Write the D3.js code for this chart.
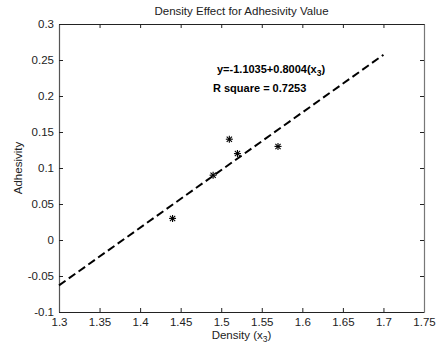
<!DOCTYPE html>
<html>
<head>
<meta charset="utf-8">
<script src="https://cdn.jsdelivr.net/npm/d3@7"></script>
<style>
  html, body { margin: 0; padding: 0; background: #fff; }
  svg { display: block; font-family: "Liberation Sans", Arial, sans-serif; }
</style>
</head>
<body>
<svg id="chart" width="438" height="349"></svg>
<script>
// Measured samples: density (x3) vs adhesivity
const density = [1.44, 1.49, 1.51, 1.52, 1.57];
const adhesivity = [0.03, 0.09, 0.14, 0.12, 0.13];

// Regression fit y = b0 + b1 * x3, drawn over this density range
const fitIntercept = -1.1035;
const fitSlope = 0.8004;
const fitRange = [1.3, 1.7];
const rSquare = 0.7253;

const xTicks = [1.3, 1.35, 1.4, 1.45, 1.5, 1.55, 1.6, 1.65, 1.7, 1.75];
const yTicks = [-0.1, -0.05, 0, 0.05, 0.1, 0.15, 0.2, 0.25, 0.3];

const svg = d3.select("#chart");
const m = { left: 59, right: 424, top: 24, bottom: 312 };

const x = d3.scaleLinear().domain([1.3, 1.75]).range([m.left, m.right]);
const y = d3.scaleLinear().domain([-0.1, 0.3]).range([m.bottom, m.top]);

const fmt = d => String(+d.toFixed(2));
const tickLen = 4;

// Bottom axis
const gx = svg.append("g").attr("transform", `translate(0,${m.bottom})`)
  .call(d3.axisBottom(x).tickValues(xTicks).tickFormat(fmt).tickSizeInner(-tickLen).tickSizeOuter(0).tickPadding(6));
// Top axis (ticks only)
const gxt = svg.append("g").attr("transform", `translate(0,${m.top})`)
  .call(d3.axisTop(x).tickValues(xTicks).tickFormat("").tickSizeInner(-tickLen).tickSizeOuter(0));
// Left axis
const gy = svg.append("g").attr("transform", `translate(${m.left},0)`)
  .call(d3.axisLeft(y).tickValues(yTicks).tickFormat(fmt).tickSizeInner(-tickLen).tickSizeOuter(0).tickPadding(5));
// Right axis (ticks only)
const gyr = svg.append("g").attr("transform", `translate(${m.right},0)`)
  .call(d3.axisRight(y).tickValues(yTicks).tickFormat("").tickSizeInner(-tickLen).tickSizeOuter(0));

[gx, gxt, gy, gyr].forEach(g => {
  g.selectAll("path.domain").attr("stroke", "#222").attr("stroke-width", 1.2);
  g.selectAll(".tick line").attr("stroke", "#222");
  g.selectAll("text").attr("font-size", 11.5).attr("fill", "#222")
    .attr("font-family", "Liberation Sans, Arial, sans-serif");
});
gyr.select("path.domain").attr("stroke", "#777");
gy.select("path.domain").attr("stroke", "#555");
gy.selectAll("text").attr("dy", "0.32em");

// Title
svg.append("text").attr("x", (m.left + m.right) / 2).attr("y", 15)
  .attr("text-anchor", "middle").attr("font-size", 11.5).attr("fill", "#222")
  .text("Density Effect for Adhesivity Value");

// Axis labels
const xl = svg.append("text").attr("x", (m.left + m.right) / 2).attr("y", 339)
  .attr("text-anchor", "middle").attr("font-size", 11.5).attr("fill", "#222");
xl.append("tspan").text("Density (x");
xl.append("tspan").attr("font-size", 8.5).attr("dy", 3).text("3");
xl.append("tspan").attr("dy", -3).text(")");

svg.append("text")
  .attr("transform", `translate(22,${(m.top + m.bottom) / 2}) rotate(-90)`)
  .attr("text-anchor", "middle").attr("font-size", 11.5).attr("fill", "#222")
  .text("Adhesivity");

// Regression line
const fitLine = d3.line().x(d => x(d)).y(d => y(fitIntercept + fitSlope * d));
svg.append("path").datum(fitRange).attr("d", fitLine)
  .attr("fill", "none").attr("stroke", "#000").attr("stroke-width", 2)
  .attr("stroke-dasharray", "8,4");

// Asterisk markers
const r = 3.5;
const star = svg.append("g").selectAll("g").data(density.map((d, i) => [d, adhesivity[i]]))
  .join("g").attr("transform", d => `translate(${x(d[0])},${y(d[1])})`)
  .attr("stroke", "#000").attr("stroke-width", 1.1);
star.append("line").attr("x1", -r).attr("x2", r).attr("y1", 0).attr("y2", 0);
star.append("line").attr("x1", 0).attr("x2", 0).attr("y1", -r).attr("y2", r);
star.append("line").attr("x1", -r * 0.75).attr("x2", r * 0.75).attr("y1", -r * 0.75).attr("y2", r * 0.75);
star.append("line").attr("x1", -r * 0.75).attr("x2", r * 0.75).attr("y1", r * 0.75).attr("y2", -r * 0.75);

// Fit annotation
const eq = svg.append("text").attr("x", 217).attr("y", 73)
  .attr("font-size", 11).attr("font-weight", "bold").attr("fill", "#000");
eq.append("tspan").text(`y=${fitIntercept}+${fitSlope}(x`);
eq.append("tspan").attr("font-size", 8.5).attr("dy", 3).text("3");
eq.append("tspan").attr("dy", -3).text(")");

svg.append("text").attr("x", 213).attr("y", 92)
  .attr("font-size", 11).attr("font-weight", "bold").attr("fill", "#000")
  .text(`R square = ${rSquare}`);
</script>
</body>
</html>
